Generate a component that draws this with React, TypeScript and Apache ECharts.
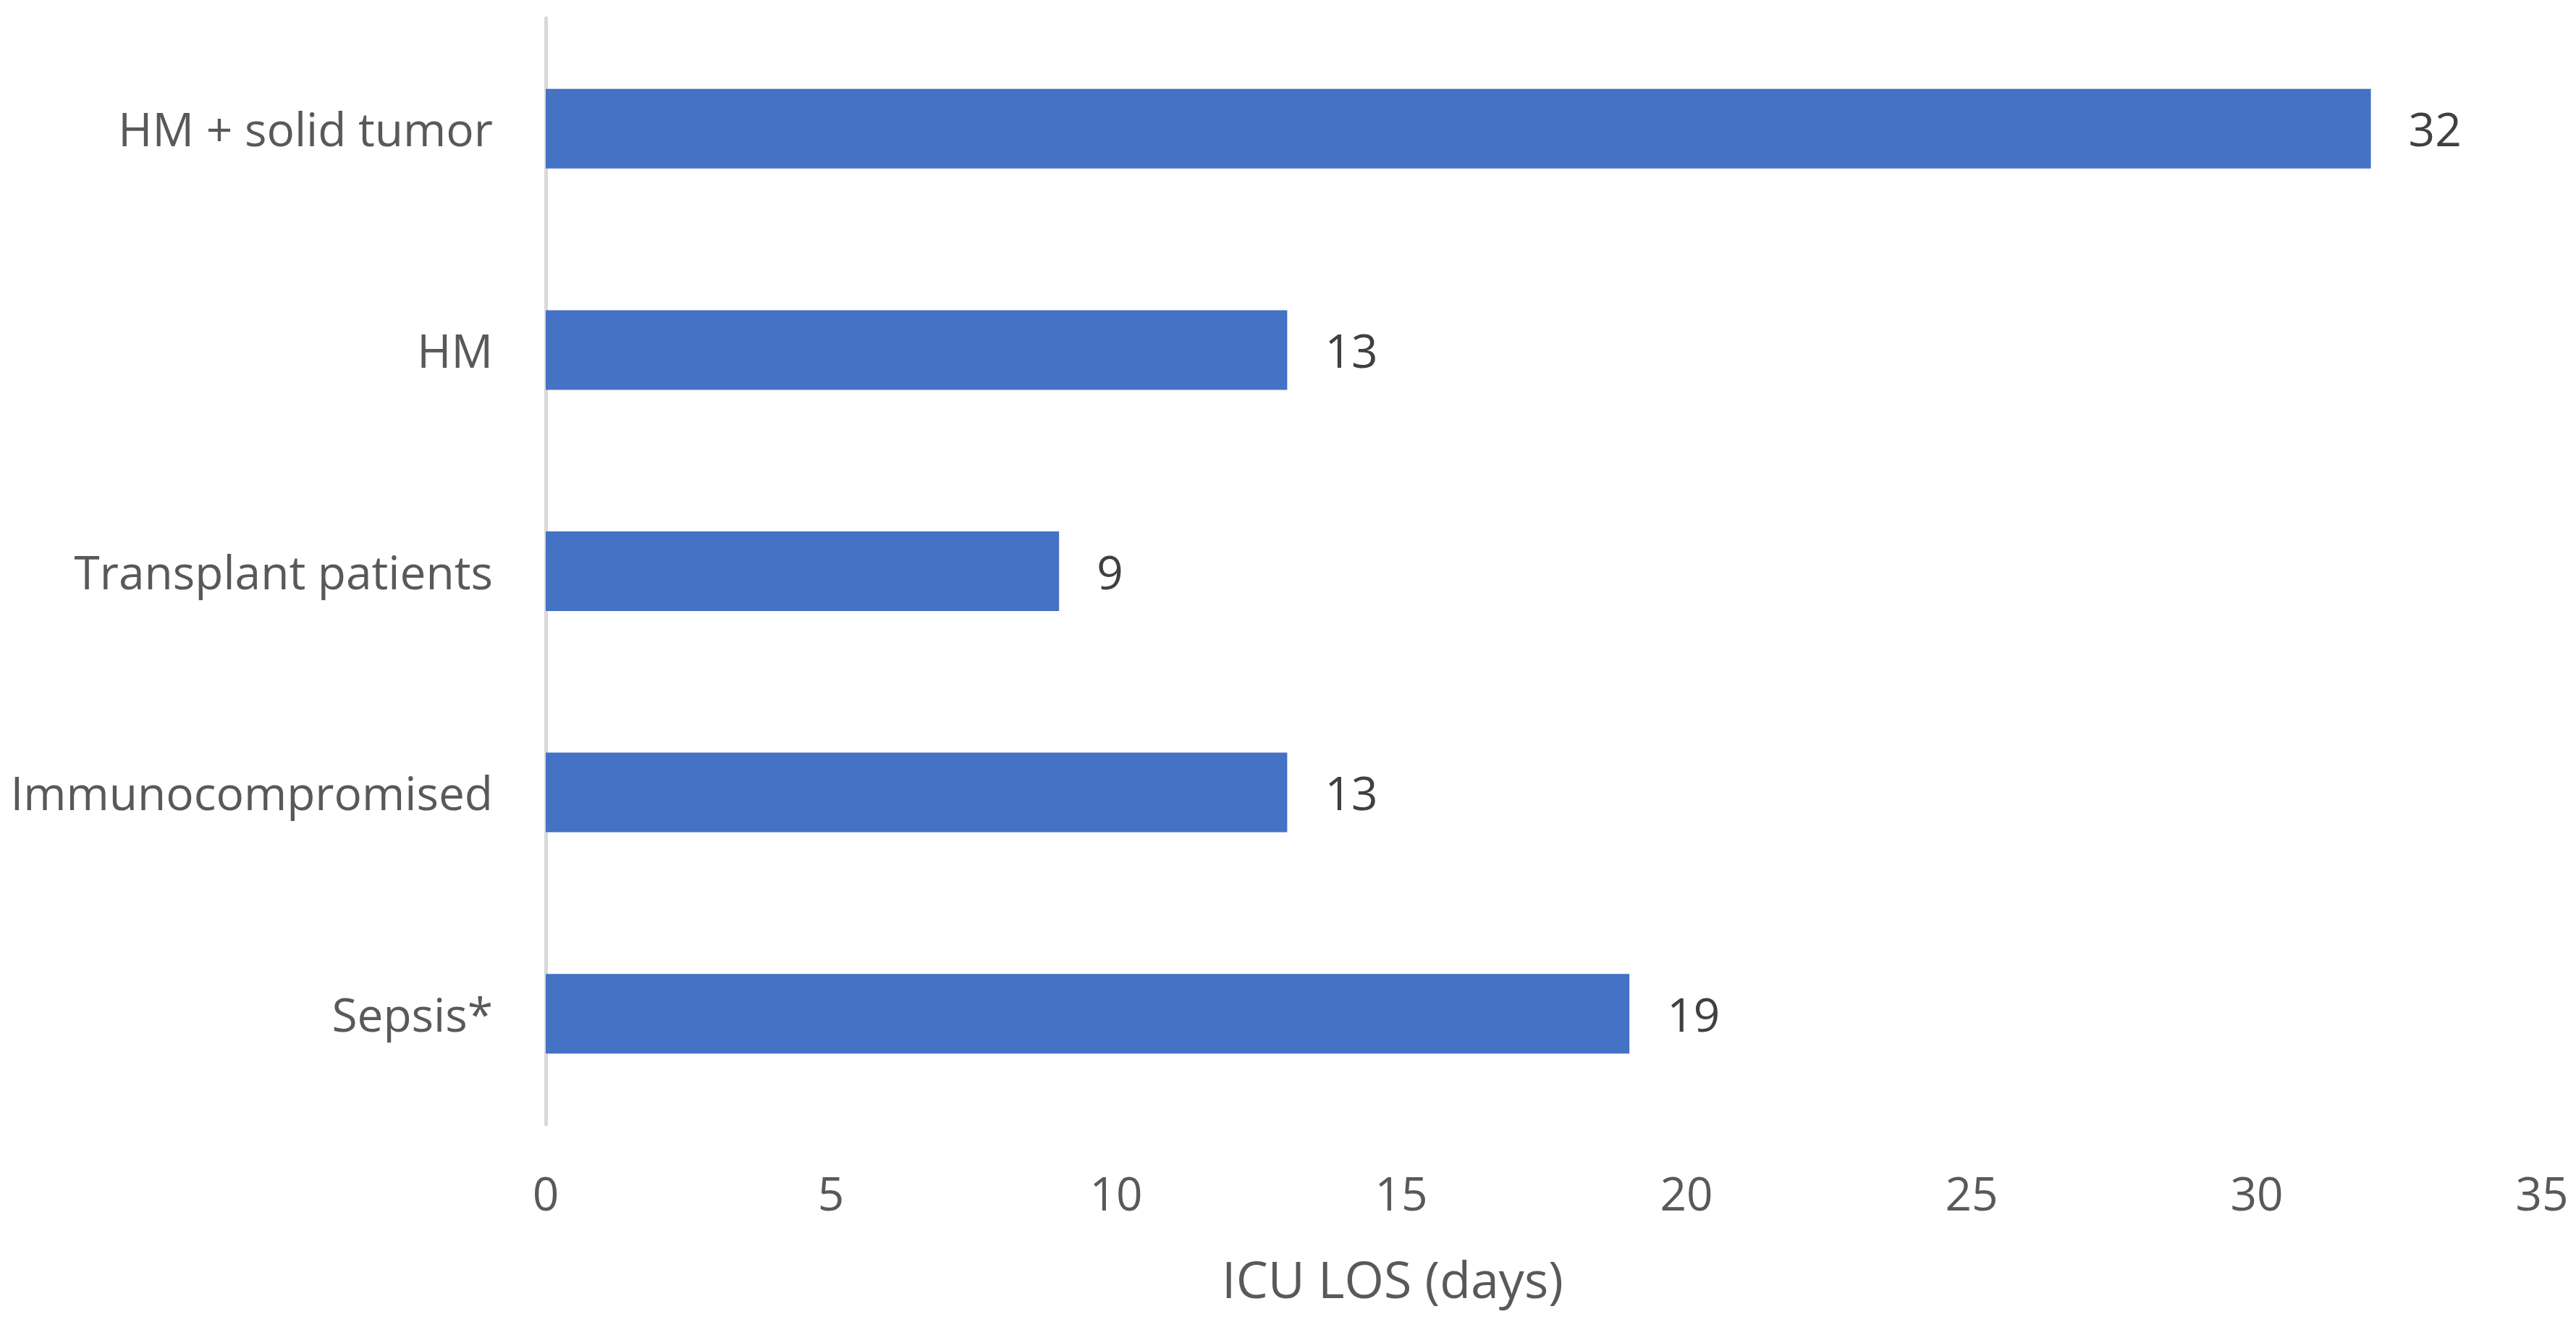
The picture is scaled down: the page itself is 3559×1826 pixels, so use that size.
import React, { useEffect, useRef } from "react";
import * as echarts from "echarts";

const categories = ["HM + solid tumor", "HM", "Transplant patients", "Immunocompromised", "Sepsis*"];
const values = [32, 13, 9, 13, 19];
const xTicks = { min: 0, max: 35, interval: 5 };
const axisTitle = "ICU LOS (days)";

export default function App() {
  const ref = useRef<HTMLDivElement>(null);
  useEffect(() => {
    if (!ref.current) return;
    const chart = echarts.init(ref.current, null, { renderer: "svg" });
    const font = "'Open Sans', 'Noto Sans', sans-serif";
    chart.setOption({
      animation: false,
      backgroundColor: "#ffffff",
      grid: { left: 754, right: 47, top: 25, bottom: 273, containLabel: false },
      xAxis: {
        type: "value",
        min: xTicks.min,
        max: xTicks.max,
        interval: xTicks.interval,
        axisLine: { show: false },
        axisTick: { show: false },
        splitLine: { show: false },
        axisLabel: { color: "#595959", fontSize: 64, fontFamily: font, margin: 62 },
      },
      yAxis: {
        type: "category",
        data: categories,
        inverse: true,
        axisLine: { show: true, lineStyle: { color: "#D9D9D9", width: 5 } },
        axisTick: { show: false },
        axisLabel: { color: "#595959", fontSize: 64, fontFamily: font, margin: 73 },
      },
      series: [
        {
          type: "bar",
          data: values,
          barWidth: 110,
          itemStyle: { color: "#4472C4" },
          label: {
            show: true,
            position: "right",
            distance: 52,
            color: "#404040",
            fontSize: 64,
            fontFamily: font,
          },
        },
      ],
      graphic: [
        {
          type: "text",
          x: 1924,
          y: 1766,
          style: {
            text: axisTitle,
            fill: "#595959",
            fontSize: 70,
            fontFamily: font,
            textAlign: "center",
            textVerticalAlign: "middle",
          },
        },
      ],
    });
    return () => chart.dispose();
  }, []);
  return (
    <div
      ref={ref}
      style={{ position: "fixed", left: 0, top: 0, width: 3559, height: 1826 }}
    />
  );
}
